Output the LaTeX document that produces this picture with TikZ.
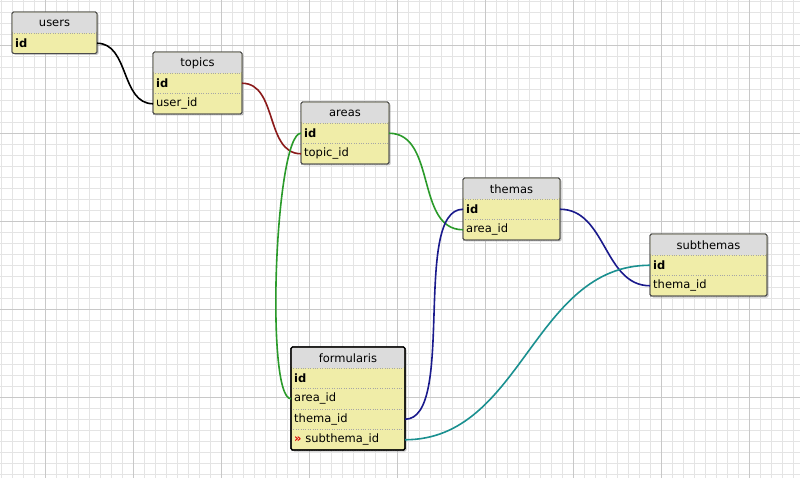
\documentclass[tikz,border=0pt]{standalone}
\usepackage{fontspec}
\setmainfont{DejaVu Sans}
\usetikzlibrary{shadows}
\definecolor{hdr}{HTML}{DCDCDC}
\definecolor{rowc}{HTML}{F0EDA8}
\definecolor{gmin}{HTML}{E4E4E4}
\definecolor{gmaj}{HTML}{C8C8C8}
\definecolor{cred}{HTML}{8B1A1A}
\definecolor{cgreen}{HTML}{2A9A2A}
\definecolor{cblue}{HTML}{1A1A8C}
\definecolor{cteal}{HTML}{1A9090}
\tikzset{
  frame/.style={draw=#1, line width=0.8pt, rounded corners=1.5pt, drop shadow={shadow xshift=1.5pt,shadow yshift=-1.5pt,opacity=0.45}, fill=rowc},
  rw/.style={anchor=west, inner sep=0pt, font=\fontsize{11.5}{13}\selectfont},
  bf/.style={rw, font=\bfseries\fontsize{11.5}{13}\selectfont},
  sep/.style={draw=gray!70, dotted, line width=0.4pt},
  link/.style={line width=1.6pt},
}
\newcommand{\dbtab}[7]{% name, x, y, width, title, nrows, framecolor
  \draw[frame=#7] (#2,#3) rectangle ++(#4,{21+20.5*#6});
  \fill[hdr,rounded corners=1.5pt] ([shift={(0.4,0.4)}]#2,#3) rectangle ++({#4-0.8},20.6);
  \node[font=\fontsize{11.5}{13}\selectfont] (#1-t) at ({#2+#4/2},{#3+11}) {#5};
  \foreach \i in {0,...,#6} {\draw[sep] (#2,{#3+21+20.5*\i}) -- ++(#4,0);}
  \draw[draw=#7, line width=0.9pt, rounded corners=1.5pt] (#2,#3) rectangle ++(#4,{21+20.5*#6});
  \foreach \i in {1,...,#6} {\coordinate (#1-w\i) at (#2,{#3+21+20.5*\i-10.25});
    \coordinate (#1-e\i) at ({#2+#4},{#3+21+20.5*\i-10.25});}
}
\begin{document}
\begin{tikzpicture}[x=1pt,y=-1pt]
\useasboundingbox (0,0) rectangle (800,478);
\fill[white] (0,0) rectangle (800,478);
\foreach \k in {0,...,73} {\draw[gmin,line width=0.4pt] ({1+11*\k},0) -- ++(0,478);}
\foreach \k in {0,...,44} {\draw[gmin,line width=0.4pt] (0,{1+11*\k}) -- ++(800,0);}
\foreach \k in {0,...,9} {\draw[gmaj,line width=0.6pt] ({45+88*(\k-1)},0) -- ++(0,478); \draw[gmaj,line width=0.6pt] (0,{45+88*(\k-1)}) -- ++(800,0);}
\dbtab{users}{12}{12}{85}{users}{1}{black!70}
\node[bf] (users-1) at ([xshift=3pt]users-w1) {id};
\dbtab{topics}{153}{52}{89}{topics}{2}{black!70}
\node[bf] (topics-1) at ([xshift=3pt]topics-w1) {id};
\node[rw] (topics-2) at ([xshift=3pt]topics-w2) {user\_id};
\dbtab{areas}{301}{102}{88}{areas}{2}{black!70}
\node[bf] (areas-1) at ([xshift=3pt]areas-w1) {id};
\node[rw] (areas-2) at ([xshift=3pt]areas-w2) {topic\_id};
\dbtab{themas}{463}{178}{97}{themas}{2}{black!70}
\node[bf] (themas-1) at ([xshift=3pt]themas-w1) {id};
\node[rw] (themas-2) at ([xshift=3pt]themas-w2) {area\_id};
\dbtab{sub}{650}{234}{117}{subthemas}{2}{black!70}
\node[bf] (sub-1) at ([xshift=3pt]sub-w1) {id};
\node[rw] (sub-2) at ([xshift=3pt]sub-w2) {thema\_id};
\dbtab{form}{291}{347}{114}{formularis}{4}{black}
\draw[black,line width=1.4pt,rounded corners=1.5pt] (291,347) rectangle (405,{347+21+82});
\node[bf] (form-1) at ([xshift=3pt]form-w1) {id};
\node[rw] (form-2) at ([xshift=3pt]form-w2) {area\_id};
\node[rw] (form-3) at ([xshift=3pt]form-w3) {thema\_id};
\node[rw] (form-4) at ([xshift=3pt]form-w4) {{\color{red!85!black}\bfseries »}\ subthema\_id};
% links
\draw[link,black] (users-e1) to[out=0,in=180] (topics-w2);
\draw[link,cred] (topics-e1) to[out=0,in=180] (areas-w2);
\draw[link,cgreen] (areas-w1) to[out=180,in=180,looseness=0.25] (form-w2);
\draw[link,cgreen] (areas-e1) to[out=0,in=180] (themas-w2);
\draw[link,cblue] (themas-w1) to[out=180,in=0,looseness=0.6] (form-e3);
\draw[link,cblue] (themas-e1) to[out=0,in=180] (sub-w2);
\draw[link,cteal] (sub-w1) to[out=180,in=0] (form-e4);
\end{tikzpicture}
\end{document}
